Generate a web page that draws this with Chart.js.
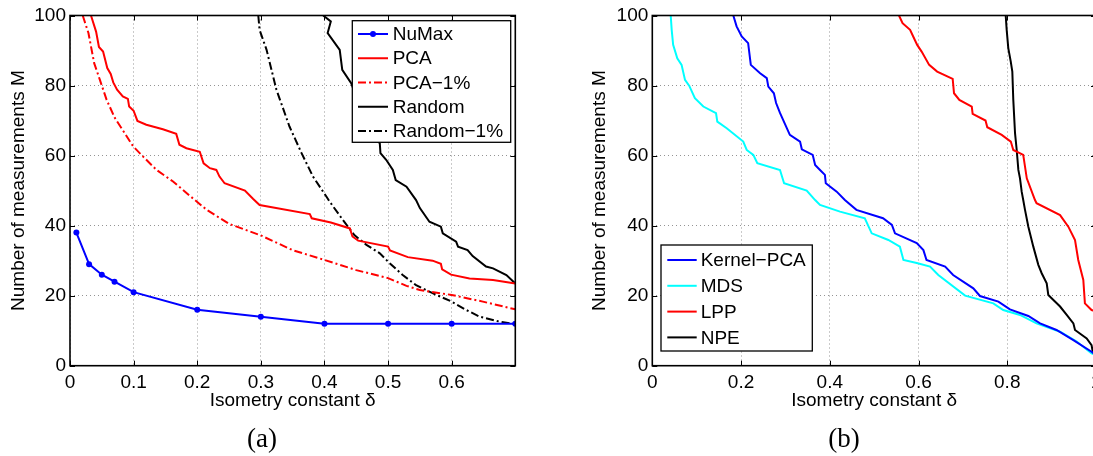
<!DOCTYPE html>
<html>
<head>
<meta charset="utf-8">
<script src="https://cdn.jsdelivr.net/npm/chart.js@4.4.1/dist/chart.umd.min.js"></script>
<style>
html, body { margin: 0; padding: 0; background: #fff; overflow: hidden; width: 1093px; height: 456px; }
.wrap { position: absolute; top: 0; width: 560px; height: 456px; }
.cap { position: absolute; top: 422px; width: 80px; text-align: center;
       font-family: "Liberation Serif", "DejaVu Serif", serif; font-size: 27px; line-height: 32px; }
</style>
</head>
<body>
<div class="wrap" style="left:0"><canvas id="chartA"></canvas></div>
<div class="wrap" style="left:560px"><canvas id="chartB"></canvas></div>
<div class="cap" style="left:222px">(a)</div>
<div class="cap" style="left:804px">(b)</div>
<script>
// ---- panel (a) ----
var numaxX = [0.01, 0.03, 0.05, 0.07, 0.1, 0.2, 0.3, 0.4, 0.5, 0.6, 0.7];
var numaxY = [38, 29, 26, 24, 21, 16, 14, 12, 12, 12, 12];

var pcaX = [0.033, 0.041, 0.0455, 0.052, 0.0586, 0.064, 0.068, 0.074, 0.083, 0.091, 0.093, 0.1, 0.106, 0.12, 0.146, 0.167, 0.172, 0.183, 0.204, 0.21, 0.22, 0.23, 0.235, 0.243, 0.275, 0.288, 0.298, 0.377, 0.38, 0.41, 0.44, 0.444, 0.453, 0.5, 0.503, 0.531, 0.57, 0.583, 0.585, 0.599, 0.628, 0.665, 0.7];
var pcaY = [100, 95.4, 91, 89.7, 85, 83.3, 80.9, 78.8, 76.9, 76.2, 74, 72.8, 69.9, 68.8, 67.5, 66.2, 63.1, 62.1, 61.1, 57.8, 56.4, 55.9, 54, 52.1, 50, 47.6, 45.9, 43.3, 42.1, 40.9, 39.2, 36.9, 35.7, 34, 32.9, 31, 30, 29.1, 27.5, 26, 24.9, 24.5, 23.5];

var pca1X = [0.02, 0.029, 0.038, 0.047, 0.0576, 0.0706, 0.086, 0.0994, 0.115, 0.136, 0.162, 0.193, 0.215, 0.25, 0.3, 0.35, 0.4, 0.45, 0.5, 0.529, 0.55, 0.6, 0.649, 0.7];
var pca1Y = [100, 95, 86.4, 81.6, 75.9, 70.7, 66.4, 62.6, 59.7, 55.9, 52.6, 47.8, 44.5, 40.5, 37.2, 33, 30.2, 27.3, 25, 22.8, 21.6, 20.2, 18.3, 16.1];

var randX = [0.398, 0.41, 0.405, 0.424, 0.428, 0.442, 0.46, 0.475, 0.487, 0.488, 0.497, 0.5075, 0.512, 0.529, 0.544, 0.55, 0.565, 0.583, 0.586, 0.607, 0.61, 0.625, 0.633, 0.654, 0.665, 0.686, 0.7];
var randY = [100, 98.3, 95, 90.2, 84.5, 80.7, 72, 66, 63.5, 60.7, 58.8, 55.9, 53, 51.1, 47.3, 45, 41.1, 39.7, 37.8, 35.4, 34, 33, 31.3, 28.3, 27.8, 25.9, 23.5];

var rand1X = [0.296, 0.298, 0.309, 0.3245, 0.33, 0.345, 0.364, 0.382, 0.403, 0.408, 0.429, 0.447, 0.466, 0.487, 0.5, 0.523, 0.544, 0.57, 0.6, 0.623, 0.644, 0.675, 0.7];
var rand1Y = [100, 95.9, 90.2, 78.8, 76, 68.3, 60.7, 54, 48.3, 46.9, 41.6, 37.3, 34.5, 32.1, 29.7, 25.9, 23, 20.7, 18.3, 15.9, 14, 12.6, 11.9];

// ---- panel (b) ----
var kpcaX = [0.1826, 0.19, 0.2015, 0.216, 0.222, 0.243, 0.258, 0.2615, 0.274, 0.279, 0.288, 0.31, 0.333, 0.337, 0.3615, 0.367, 0.378, 0.389, 0.391, 0.4156, 0.434, 0.46, 0.52, 0.54, 0.547, 0.596, 0.611, 0.618, 0.66, 0.678, 0.7235, 0.7385, 0.78, 0.806, 0.8475, 0.874, 0.911, 0.949, 0.99, 1.0];
var kpcaY = [100, 96.9, 94, 92.1, 85.9, 83.5, 82.1, 79.7, 77.8, 75, 72.1, 65.9, 64, 61.8, 60.2, 57.3, 55.9, 54.5, 52.1, 49.7, 47.3, 44.5, 42.1, 40.2, 37.8, 35, 33, 30.2, 28.3, 25.9, 22.1, 19.9, 18.3, 16.1, 14.2, 12.1, 10.2, 7.3, 4, 3];

var mdsX = [0.0415, 0.0437, 0.047, 0.0563, 0.066, 0.0737, 0.0834, 0.096, 0.115, 0.1436, 0.1465, 0.1677, 0.205, 0.2128, 0.2277, 0.2367, 0.2878, 0.297, 0.348, 0.367, 0.378, 0.423, 0.479, 0.4945, 0.532, 0.558, 0.566, 0.596, 0.626, 0.6446, 0.705, 0.7686, 0.791, 0.8287, 0.866, 0.919, 0.9565, 0.99, 1.0];
var mdsY = [100, 95.9, 91.6, 87.8, 85.9, 81.6, 79.9, 76.4, 74, 72.1, 69.7, 67.8, 64, 61.6, 60.2, 57.8, 55.9, 52.1, 50, 47.3, 45.9, 44, 42.1, 37.8, 35.9, 34, 30.2, 29.3, 28.3, 25.9, 20, 17.8, 15.9, 14.5, 12.1, 9.7, 6.9, 3.5, 3];

var lppX = [0.556, 0.564, 0.581, 0.588, 0.597, 0.607, 0.624, 0.642, 0.677, 0.68, 0.692, 0.72, 0.722, 0.751, 0.755, 0.7875, 0.808, 0.8136, 0.836, 0.844, 0.8625, 0.866, 0.919, 0.9376, 0.9527, 0.96, 0.9714, 0.975, 0.99, 1.0];
var lppY = [100, 97.8, 95.9, 94, 91.6, 89.7, 85.9, 84, 81.9, 77.8, 75.9, 74, 71.9, 70, 68.1, 65.9, 64, 61.6, 60.2, 53.5, 47.3, 46.4, 43, 39.7, 35.9, 30.2, 24.5, 17.8, 15.9, 15.5];

var npeX = [0.7965, 0.7987, 0.8023, 0.8078, 0.8114, 0.8136, 0.8175, 0.8213, 0.825, 0.8287, 0.8325, 0.836, 0.84, 0.8475, 0.8587, 0.87, 0.8776, 0.8889, 0.8925, 0.919, 0.934, 0.949, 0.9527, 0.979, 0.99, 0.9925, 1.0];
var npeY = [100, 95.9, 90.7, 86.9, 84, 75.9, 66.4, 61.6, 55.9, 53.5, 49.7, 47.3, 44.5, 39.7, 34, 28.8, 26.4, 23.5, 20.2, 16.9, 14.5, 12.1, 10.2, 7.8, 5.9, 4, 3.5];

var yTicks = [0, 20, 40, 60, 80, 100];
var xTitle = "Isometry constant \u03b4";
var yTitle = "Number of measurements M";

var FONT = '"Liberation Sans", Arial, sans-serif';
var FSIZE = 19;

function pts(xs, ys) {
	var out = [];
	for (var i in xs) {
		out.push({x: xs[i], y: ys[i]});
	}
	return out;
}

function series(label, xs, ys, color, dash, radius) {
	return {
		label: label,
		data: pts(xs, ys),
		showLine: true,
		fill: false,
		tension: 0,
		borderColor: color,
		backgroundColor: color,
		borderWidth: 2,
		borderDash: dash || [],
		pointRadius: radius || 0,
		pointBackgroundColor: color,
		pointBorderWidth: 0
	};
}

// axes box, inward ticks and boxed legend like matlab
var matlabBox = {
	id: 'matlabBox',
	afterDraw: function(chart, args, opts) {
		var ctx = chart.ctx, a = chart.chartArea, sx = chart.scales.x, sy = chart.scales.y;
		ctx.save();
		ctx.strokeStyle = '#000';
		ctx.lineWidth = 1;
		ctx.beginPath();
		sx.ticks.forEach(function(t) {
			var px = Math.round(sx.getPixelForValue(t.value)) + 0.5;
			ctx.moveTo(px, a.bottom); ctx.lineTo(px, a.bottom - 5);
			ctx.moveTo(px, a.top); ctx.lineTo(px, a.top + 5);
		});
		sy.ticks.forEach(function(t) {
			var py = Math.round(sy.getPixelForValue(t.value)) + 0.5;
			ctx.moveTo(a.left, py); ctx.lineTo(a.left + 5, py);
			ctx.moveTo(a.right, py); ctx.lineTo(a.right - 5, py);
		});
		ctx.stroke();
		ctx.lineWidth = 1.6;
		ctx.strokeRect(a.left, a.top, a.right - a.left, a.bottom - a.top);

		var L = opts.legend;
		ctx.fillStyle = '#fff';
		ctx.fillRect(L.x, L.y, L.w, L.h);
		ctx.lineWidth = 1.3;
		ctx.strokeRect(L.x, L.y, L.w, L.h);
		ctx.font = FSIZE + 'px ' + FONT;
		ctx.textBaseline = 'middle';
		chart.data.datasets.forEach(function(ds, i) {
			var y = L.y + L.first + i * L.step;
			ctx.strokeStyle = ds.borderColor;
			ctx.lineWidth = ds.borderWidth;
			ctx.setLineDash(ds.borderDash);
			ctx.beginPath();
			ctx.moveTo(L.x + L.l0, y);
			ctx.lineTo(L.x + L.l1, y);
			ctx.stroke();
			ctx.setLineDash([]);
			if (ds.pointRadius > 0) {
				ctx.fillStyle = ds.borderColor;
				ctx.beginPath();
				ctx.arc(L.x + (L.l0 + L.l1) / 2, y, ds.pointRadius, 0, Math.PI * 2);
				ctx.fill();
			}
			ctx.fillStyle = '#000';
			ctx.fillText(ds.label, L.x + L.tx, y + 1);
		});
		ctx.restore();
	}
};

function makeOptions(c) {
	return {
		responsive: true,
		maintainAspectRatio: false,
		animation: false,
		layout: { padding: { top: 15.5, right: c.padRight, bottom: 0, left: 0 } },
		plugins: {
			legend: { display: false },
			tooltip: { enabled: false },
			matlabBox: { legend: c.legend }
		},
		scales: {
			x: {
				type: 'linear',
				min: 0,
				max: c.xMax,
				afterBuildTicks: function(s) {
					s.ticks = c.xTicks.map(function(v) { return {value: v}; });
				},
				afterFit: function(s) { s.height = 90.3; },
				ticks: {
					autoSkip: false,
					maxRotation: 0,
					padding: 6,
					color: '#000',
					font: { family: FONT, size: FSIZE },
					callback: c.xLabel
				},
				grid: { color: 'rgba(0,0,0,0.42)', lineWidth: 1, drawTicks: false },
				border: { display: false, dash: [1, 3] },
				title: {
					display: true,
					text: xTitle,
					color: '#000',
					font: { family: FONT, size: FSIZE },
					padding: { top: 0, bottom: 44 }
				}
			},
			y: {
				type: 'linear',
				min: 0,
				max: 100,
				afterBuildTicks: function(s) {
					s.ticks = yTicks.map(function(v) { return {value: v}; });
				},
				afterFit: function(s) { s.width = c.yWidth; },
				ticks: {
					padding: 4,
					color: '#000',
					font: { family: FONT, size: FSIZE }
				},
				grid: { color: 'rgba(0,0,0,0.42)', lineWidth: 1, drawTicks: false },
				border: { display: false, dash: [1, 3] },
				title: {
					display: true,
					text: yTitle,
					color: '#000',
					font: { family: FONT, size: FSIZE },
					padding: { top: c.yTitlePad, bottom: 0 }
				}
			}
		}
	};
}

var DASHDOT = [8, 3, 2, 3];

new Chart(document.getElementById('chartA'), {
	type: 'scatter',
	data: {
		datasets: [
			series('NuMax', numaxX, numaxY, '#0000ff', [], 3),
			series('PCA', pcaX, pcaY, '#ff0000'),
			series('PCA\u22121%', pca1X, pca1Y, '#ff0000', DASHDOT),
			series('Random', randX, randY, '#000000'),
			series('Random\u22121%', rand1X, rand1Y, '#000000', DASHDOT)
		]
	},
	options: makeOptions({
		padRight: 44.7,
		yWidth: 70,
		yTitlePad: 7.6,
		xMax: 0.7,
		xTicks: [0, 0.1, 0.2, 0.3, 0.4, 0.5, 0.6, 0.7],
		xLabel: function(v) { return v > 0.65 ? '' : (v === 0 ? '0' : v.toFixed(1)); },
		legend: { x: 352.3, y: 20.7, w: 158.4, h: 121.6, first: 13.3, step: 24.25, l0: 5.7, l1: 35.7, tx: 40.4 }
	}),
	plugins: [matlabBox]
});

new Chart(document.getElementById('chartB'), {
	type: 'scatter',
	data: {
		datasets: [
			series('Kernel\u2212PCA', kpcaX, kpcaY, '#0000ff'),
			series('MDS', mdsX, mdsY, '#00ffff'),
			series('LPP', lppX, lppY, '#ff0000'),
			series('NPE', npeX, npeY, '#000000')
		]
	},
	options: makeOptions({
		padRight: 24,
		yWidth: 92.3,
		yTitlePad: 28.6,
		xMax: 1,
		xTicks: [0, 0.2, 0.4, 0.6, 0.8, 1],
		xLabel: function(v) { return v === 0 ? '0' : (v === 1 ? '1' : v.toFixed(1)); },
		legend: { x: 101, y: 245, w: 151.3, h: 106, first: 15, step: 25.8, l0: 6.3, l1: 35.7, tx: 39.7 }
	}),
	plugins: [matlabBox]
});
</script>
</body>
</html>
